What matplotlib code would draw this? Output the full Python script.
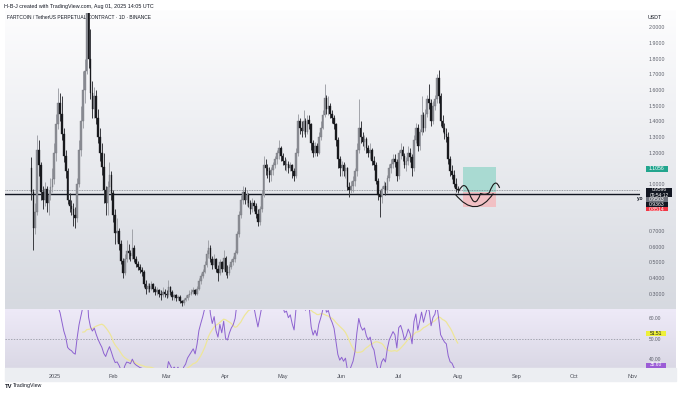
import numpy as np
import pandas as pd
import matplotlib
matplotlib.use("Agg")
import matplotlib.pyplot as plt
import matplotlib.dates as mdates
from matplotlib.path import Path
from matplotlib.patches import PathPatch, Rectangle
from matplotlib.colors import LinearSegmentedColormap

plt.rcParams['font.family'] = ['Liberation Sans', 'DejaVu Sans']

# ---------------- data (daily candles, FARTCOINUSDT.P, from 2024-12-20) ----------------
start_date = "2024-12-20"
first_open = 1.10

closes_dec = [0.95, 0.72, 0.82, 1.22, 1.12, 0.95, 0.90, 0.97, 0.88, 0.93, 0.98, 1.03]
highs_dec = [1.17, 0.97, 0.88, 1.31, 1.28, 1.14, 0.99, 1.01, 0.99, 0.96, 1.04, 1.10]
lows_dec = [0.90, 0.58, 0.68, 0.80, 1.05, 0.90, 0.84, 0.86, 0.82, 0.80, 0.90, 0.95]

closes_jan = [1.20, 1.38, 1.52, 1.45, 1.32, 1.18, 1.08, 0.90, 0.86, 0.84, 0.80, 0.78, 1.00, 1.22, 1.40, 1.60,
              1.72, 2.40, 1.80, 1.58, 1.48, 1.56, 1.42, 1.30, 1.20, 1.11, 0.96, 0.88, 0.98, 1.06, 0.94]
highs_jan = [1.26, 1.45, 1.61, 1.58, 1.56, 1.36, 1.22, 1.10, 0.94, 0.90, 0.88, 0.85, 1.04, 1.28, 1.50, 1.72,
             1.80, 2.55, 2.50, 1.99, 1.66, 1.62, 1.60, 1.48, 1.36, 1.26, 1.20, 0.99, 1.02, 1.14, 1.08]
lows_jan = [1.00, 1.15, 1.35, 1.40, 1.28, 1.14, 1.04, 0.87, 0.82, 0.80, 0.73, 0.72, 0.76, 0.98, 1.18, 1.36,
            1.52, 1.70, 1.74, 1.54, 1.42, 1.42, 1.38, 1.26, 1.15, 1.06, 0.88, 0.80, 0.80, 0.95, 0.90]

closes_feb = [0.80, 0.69, 0.70, 0.62, 0.51, 0.43, 0.52, 0.57, 0.56, 0.54, 0.59, 0.52, 0.49, 0.47, 0.45, 0.44,
              0.36, 0.33, 0.35, 0.33, 0.36, 0.33, 0.31, 0.32, 0.30, 0.29, 0.31, 0.30]
highs_feb = [0.96, 0.84, 0.78, 0.72, 0.64, 0.53, 0.55, 0.64, 0.62, 0.58, 0.71, 0.61, 0.54, 0.51, 0.49, 0.47,
             0.45, 0.39, 0.37, 0.37, 0.38, 0.37, 0.35, 0.34, 0.33, 0.32, 0.34, 0.33]
lows_feb = [0.76, 0.62, 0.63, 0.58, 0.49, 0.40, 0.42, 0.50, 0.52, 0.51, 0.52, 0.50, 0.47, 0.45, 0.43, 0.41,
            0.34, 0.30, 0.31, 0.31, 0.32, 0.31, 0.29, 0.29, 0.28, 0.26, 0.28, 0.28]

closes_mar = [0.29, 0.34, 0.31, 0.28, 0.29, 0.27, 0.28, 0.25, 0.24, 0.26, 0.27, 0.29, 0.30, 0.31, 0.32, 0.30,
              0.33, 0.38, 0.41, 0.44, 0.48, 0.55, 0.59, 0.52, 0.48, 0.52, 0.46, 0.43, 0.50, 0.46, 0.53]
highs_mar = [0.32, 0.39, 0.35, 0.32, 0.30, 0.30, 0.29, 0.29, 0.26, 0.27, 0.29, 0.30, 0.32, 0.33, 0.34, 0.33,
             0.35, 0.40, 0.43, 0.46, 0.51, 0.58, 0.64, 0.61, 0.54, 0.55, 0.53, 0.48, 0.52, 0.51, 0.58]
lows_mar = [0.27, 0.28, 0.29, 0.26, 0.26, 0.25, 0.26, 0.24, 0.22, 0.23, 0.25, 0.26, 0.28, 0.29, 0.30, 0.29,
            0.29, 0.32, 0.36, 0.40, 0.43, 0.47, 0.53, 0.50, 0.46, 0.47, 0.44, 0.38, 0.42, 0.44, 0.45]

closes_apr = [0.44, 0.43, 0.47, 0.50, 0.52, 0.56, 0.68, 0.80, 0.90, 0.95, 0.90, 0.93, 0.88, 0.84, 0.88, 0.86,
              0.81, 0.76, 0.84, 0.93, 1.12, 1.10, 1.08, 1.06, 1.09, 1.12, 1.16, 1.20, 1.23, 1.18]
highs_apr = [0.54, 0.48, 0.49, 0.52, 0.54, 0.58, 0.70, 0.83, 0.93, 0.99, 0.98, 0.96, 0.94, 0.90, 0.91, 0.90,
             0.88, 0.84, 0.86, 0.96, 1.18, 1.16, 1.13, 1.11, 1.11, 1.14, 1.18, 1.22, 1.28, 1.24]
lows_apr = [0.42, 0.40, 0.42, 0.46, 0.48, 0.50, 0.55, 0.66, 0.78, 0.87, 0.87, 0.86, 0.85, 0.81, 0.82, 0.83,
            0.78, 0.73, 0.74, 0.82, 0.92, 1.06, 1.04, 1.01, 1.02, 1.06, 1.10, 1.13, 1.16, 1.15]

closes_may = [1.15, 1.12, 1.13, 1.10, 1.12, 1.08, 1.05, 1.20, 1.40, 1.36, 1.34, 1.40, 1.33, 1.41, 1.38, 1.26,
              1.20, 1.24, 1.20, 1.30, 1.36, 1.44, 1.55, 1.48, 1.50, 1.45, 1.42, 1.38, 1.28, 1.16, 1.10]
highs_may = [1.20, 1.17, 1.16, 1.15, 1.14, 1.13, 1.10, 1.23, 1.45, 1.42, 1.40, 1.47, 1.42, 1.44, 1.44, 1.39,
             1.28, 1.27, 1.26, 1.33, 1.40, 1.47, 1.64, 1.57, 1.56, 1.52, 1.47, 1.44, 1.39, 1.30, 1.18]
lows_may = [1.12, 1.09, 1.08, 1.07, 1.08, 1.04, 1.02, 1.04, 1.18, 1.32, 1.30, 1.32, 1.30, 1.32, 1.35, 1.22,
            1.17, 1.18, 1.18, 1.19, 1.28, 1.35, 1.43, 1.45, 1.44, 1.42, 1.39, 1.35, 1.24, 1.10, 1.05]

closes_jun = [1.12, 1.08, 1.10, 0.98, 0.96, 0.99, 1.02, 1.08, 1.22, 1.36, 1.30, 1.27, 1.29, 1.23, 1.20, 1.22,
              1.15, 1.12, 1.02, 0.93, 0.92, 0.97, 0.99, 0.96, 1.04, 1.10, 1.13, 1.16, 1.14, 1.05]
highs_jun = [1.15, 1.14, 1.13, 1.11, 1.01, 1.02, 1.05, 1.10, 1.26, 1.54, 1.40, 1.33, 1.31, 1.30, 1.25, 1.26,
             1.23, 1.18, 1.14, 1.04, 0.96, 0.99, 1.02, 1.01, 1.06, 1.13, 1.16, 1.19, 1.19, 1.16]
lows_jun = [1.05, 1.05, 1.04, 0.96, 0.92, 0.94, 0.95, 0.99, 1.05, 1.20, 1.26, 1.24, 1.22, 1.20, 1.17, 1.16,
            1.12, 1.09, 1.00, 0.90, 0.79, 0.88, 0.94, 0.93, 0.94, 1.02, 1.07, 1.10, 1.11, 1.02]

closes_jul = [1.20, 1.22, 1.18, 1.12, 1.15, 1.20, 1.17, 1.10, 1.28, 1.36, 1.24, 1.33, 1.44, 1.36, 1.45, 1.54,
              1.52, 1.40, 1.50, 1.54, 1.68, 1.56, 1.40, 1.36, 1.32, 1.30, 1.16, 1.08, 1.06, 1.00, 0.97]
highs_jul = [1.22, 1.26, 1.24, 1.20, 1.17, 1.24, 1.23, 1.19, 1.31, 1.39, 1.38, 1.35, 1.56, 1.46, 1.48, 1.57,
             1.64, 1.54, 1.53, 1.57, 1.70, 1.73, 1.58, 1.44, 1.39, 1.36, 1.33, 1.18, 1.12, 1.09, 1.04]
lows_jul = [1.03, 1.16, 1.15, 1.10, 1.08, 1.12, 1.14, 1.05, 1.08, 1.26, 1.21, 1.22, 1.31, 1.33, 1.34, 1.43,
            1.48, 1.37, 1.38, 1.47, 1.52, 1.52, 1.37, 1.33, 1.29, 1.27, 1.13, 1.05, 1.03, 0.98, 0.95]

closes_aug = [0.9596]
highs_aug = [0.99]
lows_aug = [0.94]

# levels / annotations
yearly_open = 0.9363
last_price = 0.9596
countdown = "09:54:12"
entry_price = 0.9503
target_price = 1.1056
stop_price = 0.8514
position_start_day = 214.6     # days after 2025-01-01
position_end_day = 232.0
arc_days = [210.6, 221.45, 230.7]
arc_prices = [0.936, 0.772, 0.940]
wave_days = [212.6, 215.5, 218.0, 221.0, 224.0, 226.5, 228.6, 231.8, 234.0]
wave_prices = [0.955, 1.030, 0.945, 0.830, 0.940, 0.925, 0.945, 1.050, 0.975]
rsi_ma_label = "51.51"
rsi_label = "35.60"
month_labels = ["2025", "Feb", "Mar", "Apr", "May", "Jun", "Jul", "Aug", "Sep", "Oct", "Nov"]
price_ticks = [0.3, 0.4, 0.5, 0.6, 0.7, 1.0, 1.2, 1.3, 1.4, 1.5, 1.6, 1.7, 1.8, 1.9, 2.0]
rsi_ticks = [40, 50, 60]

# ---------------- assemble ----------------
closes = np.array(closes_dec + closes_jan + closes_feb + closes_mar + closes_apr + closes_may
                  + closes_jun + closes_jul + closes_aug)
highs = np.array(highs_dec + highs_jan + highs_feb + highs_mar + highs_apr + highs_may
                 + highs_jun + highs_jul + highs_aug)
lows = np.array(lows_dec + lows_jan + lows_feb + lows_mar + lows_apr + lows_may
                + lows_jun + lows_jul + lows_aug)
opens = np.concatenate([[first_open], closes[:-1]])
dates = pd.date_range(start_date, periods=len(closes), freq="D")
xs = mdates.date2num(dates)
day0 = mdates.date2num(pd.Timestamp("2025-01-01"))

# RSI 14 (Wilder) and its 14 SMA
delta = np.diff(closes)
gain = np.clip(delta, 0, None)
loss = np.clip(-delta, 0, None)
n = 14
rsi = np.full(len(closes), np.nan)
ag = gain[:n].mean()
al = loss[:n].mean()
rsi[n] = 100 - 100 / (1 + ag / al)
for i in range(n, len(delta)):
    ag = (ag * (n - 1) + gain[i]) / n
    al = (al * (n - 1) + loss[i]) / n
    rsi[i + 1] = 100 - 100 / (1 + ag / al)
rsi_ma = pd.Series(rsi).rolling(14).mean().values

# ---------------- figure ----------------
W, H = 680, 394
fig = plt.figure(figsize=(6.8, 3.94), dpi=100)
bg = fig.add_axes([0, 0, 1, 1])
bg.set_xlim(0, W)
bg.set_ylim(H, 0)
bg.axis("off")


def grad(x0, x1, y0, y1, c0, c1, z=0):
    cm = LinearSegmentedColormap.from_list("g", [c0, c1])
    arr = np.linspace(0, 1, 256).reshape(-1, 1)
    bg.imshow(arr, cmap=cm, extent=(x0, x1, y1, y0), aspect="auto", origin="upper", zorder=z)


grad(5, 676, 10, 309, "#fdfdfe", "#d6d9e0")
grad(5, 676, 309, 368, "#eeeaf8", "#dad8e5")
bg.add_patch(Rectangle((5, 368), 671, 13, color="#eceef2", zorder=0))
bg.set_xlim(0, W)
bg.set_ylim(H, 0)


def fpos(x0, y0, x1, y1):
    return [x0 / W, 1 - y1 / H, (x1 - x0) / W, (y1 - y0) / H]


xl = (day0 - 25.91, day0 + 307.78)

# header texts (under the candles)
bg.text(4, 6, "H-B-J created with TradingView.com, Aug 01, 2025 14:05 UTC", fontsize=3.9,
        color="#131722", va="center", ha="left")
bg.text(7, 17.3, "FARTCOIN / TetherUS PERPETUAL CONTRACT · 1D · BINANCE", fontsize=3.55,
        color="#131722", va="center", ha="left")

# price pane
axp = fig.add_axes(fpos(5, 13, 640, 309))
axp.set_facecolor("none")
for s in axp.spines.values():
    s.set_visible(False)
axp.set_xlim(*xl)
axp.set_ylim(0.2018, 2.0920)
axp.set_xticks([])
axp.yaxis.tick_right()
axp.set_yticks(price_ticks)
axp.set_yticklabels([f"{v:.4f}" for v in price_ticks])
axp.tick_params(axis="y", length=0, pad=6.5, labelsize=3.8, labelcolor="#5d606b")

up = closes >= opens
up_col, dn_col = "#8e9097", "#18191d"
axp.vlines(xs[up], lows[up], highs[up], color="#a2a4aa", lw=0.7, zorder=3)
axp.vlines(xs[~up], lows[~up], highs[~up], color="#3a3b40", lw=0.7, zorder=3)
body_lo = np.minimum(opens, closes)
body_h = np.maximum(np.abs(closes - opens), 0.006)
axp.bar(xs[up], body_h[up], bottom=body_lo[up], width=0.85, color=up_col,
        edgecolor="#6f7178", lw=0.25, zorder=4)
axp.bar(xs[~up], body_h[~up], bottom=body_lo[~up], width=0.85, color=dn_col,
        edgecolor=dn_col, lw=0.25, zorder=4)

axp.axhline(yearly_open, color="#131722", lw=1.0, zorder=2)
axp.axhline(last_price, color="#6a6d78", lw=0.5, ls=(0, (1.2, 1.2)), zorder=2)

# long position tool
px0 = day0 + position_start_day
px1 = day0 + position_end_day
axp.add_patch(Rectangle((px0, entry_price), px1 - px0, target_price - entry_price,
                        facecolor="#a9dad2", edgecolor="none", zorder=1))
axp.add_patch(Rectangle((px0, stop_price), px1 - px0, entry_price - stop_price,
                        facecolor="#f1c0c4", edgecolor="none", zorder=1))

# hand drawn curves
arc = Path([(day0 + d, p) for d, p in zip(arc_days, arc_prices)],
           [Path.MOVETO, Path.CURVE3, Path.CURVE3])
axp.add_patch(PathPatch(arc, fill=False, ec="#1a1a1a", lw=0.8, zorder=5))
wave = Path([(day0 + d, p) for d, p in zip(wave_days, wave_prices)],
            [Path.MOVETO] + [Path.CURVE3] * (len(wave_days) - 1))
axp.add_patch(PathPatch(wave, fill=False, ec="#1a1a1a", lw=0.8, zorder=5))

# RSI pane
axr = fig.add_axes(fpos(5, 310, 640, 368))
axr.set_facecolor("none")
for s in axr.spines.values():
    s.set_visible(False)
axr.set_xlim(*xl)
axr.set_ylim(35.6, 64.1)
axr.axhline(50, color="#8a8d97", lw=0.5, ls=(0, (2, 2)))
axr.plot(xs, rsi_ma, color="#eee69a", lw=0.9, zorder=2)
axr.plot(xs, rsi, color="#8d62d0", lw=0.7, zorder=3)
axr.yaxis.tick_right()
axr.set_yticks(rsi_ticks)
axr.set_yticklabels([f"{v:.2f}" for v in rsi_ticks])
axr.tick_params(axis="y", length=0, pad=6.5, labelsize=3.5, labelcolor="#5d606b")
month_starts = pd.date_range("2025-01-01", periods=len(month_labels), freq="MS")
axr.set_xticks(mdates.date2num(month_starts))
axr.set_xticklabels(month_labels)
axr.tick_params(axis="x", length=0, pad=4.0, labelsize=4.0, labelcolor="#4a4d57")

# right scale labels
bg.text(648, 17, "USDT", fontsize=3.8, color="#131722", va="center", ha="left")


def tag(y0, y1, text, fc, tc, x0=646, x1=668, fs=3.7):
    bg.add_patch(Rectangle((x0, y0), x1 - x0, y1 - y0, facecolor=fc, edgecolor="none", zorder=5))
    bg.text((x0 + x1) / 2, (y0 + y1) / 2, text, fontsize=fs, color=tc, ha="center", va="center", zorder=6)


tag(165.7, 171.7, f"{target_price:.4f}", "#22a58e", "white")
tag(187.7, 197.4, f"{last_price:.4f}\n{countdown}", "#131722", "white", x1=672, fs=3.5)
tag(197.4, 201.8, f"{entry_price:.4f}", "#6f727c", "white")
tag(201.8, 206.7, f"{yearly_open:.4f}", "#131722", "white")
tag(206.7, 211.4, f"{stop_price:.4f}", "#f23645", "white")
bg.text(643, 198.5, "y.o", fontsize=3.4, color="#131722", ha="right", va="center", fontweight="bold")

tag(331.0, 336.0, rsi_ma_label, "#eef03a", "#131722", x1=666, fs=3.5)
tag(362.5, 367.5, rsi_label, "#9b5cd6", "white", x1=666, fs=3.5)

bg.text(5, 386, "TV", fontsize=4.2, color="#131722", ha="left", va="center", fontweight="bold")
bg.text(13, 386, "TradingView", fontsize=3.8, color="#131722", ha="left", va="center")

fig.savefig("out.png", dpi=100)
